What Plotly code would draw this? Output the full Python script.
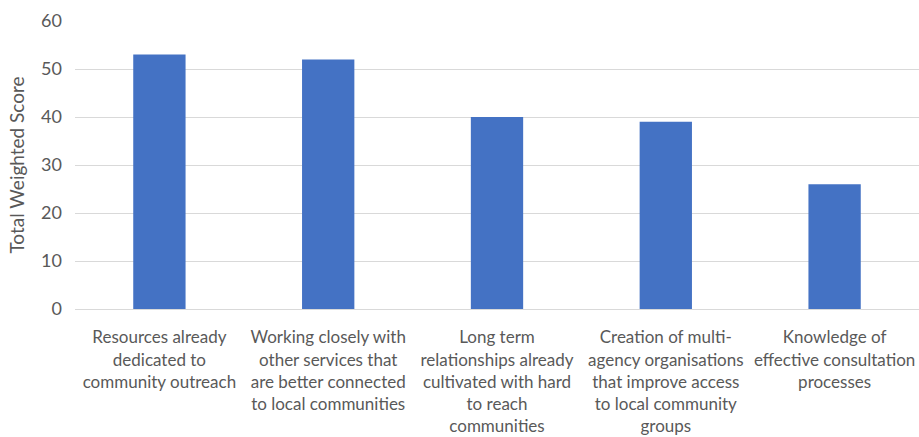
import plotly.graph_objects as go

categories = [
    "Resources already<br>dedicated to<br>community outreach",
    "Working closely with<br>other services that<br>are better connected<br>to local communities",
    "Long term<br>relationships already<br>cultivated with hard<br>to reach<br>communities",
    "Creation of multi-<br>agency organisations<br>that improve access<br>to local community<br>groups",
    "Knowledge of<br>effective consultation<br>processes",
]
scores = [53, 52, 40, 39, 26]
y_ticks = [0, 10, 20, 30, 40, 50, 60]

FONT = "Lato, Liberation Sans, Arial, sans-serif"
GREY = "#595959"

fig = go.Figure(
    go.Bar(x=categories, y=scores, marker=dict(color="#4472C4", line=dict(width=0)))
)

fig.update_layout(
    width=919,
    height=437,
    margin=dict(l=75, r=0, t=21, b=128, autoexpand=False),
    paper_bgcolor="white",
    plot_bgcolor="white",
    bargap=0.69,
    showlegend=False,
    font=dict(family=FONT, size=18, color=GREY),
)
fig.update_xaxes(
    showgrid=False,
    showline=True,
    linecolor="#d9d9d9",
    linewidth=1,
    ticks="",
    tickangle=0,
    ticklabelstandoff=13,
    automargin=False,
    tickfont=dict(family=FONT, size=17, color=GREY),
)
fig.update_yaxes(
    range=[0, 60],
    tickvals=y_ticks,
    showgrid=True,
    gridcolor="#d9d9d9",
    gridwidth=1,
    zeroline=False,
    showline=False,
    ticks="",
    ticklabelstandoff=12,
    automargin=False,
    tickfont=dict(family=FONT, size=18, color=GREY),
    title=dict(text="Total Weighted Score", font=dict(family=FONT, size=19, color=GREY), standoff=11),
)

# remove the page's default 8px body margin so the figure fills the window exactly
fig.write_html(
    "out.html",
    config={"displayModeBar": False},
    post_script="document.body.style.margin='0';document.body.style.overflow='hidden';",
)
